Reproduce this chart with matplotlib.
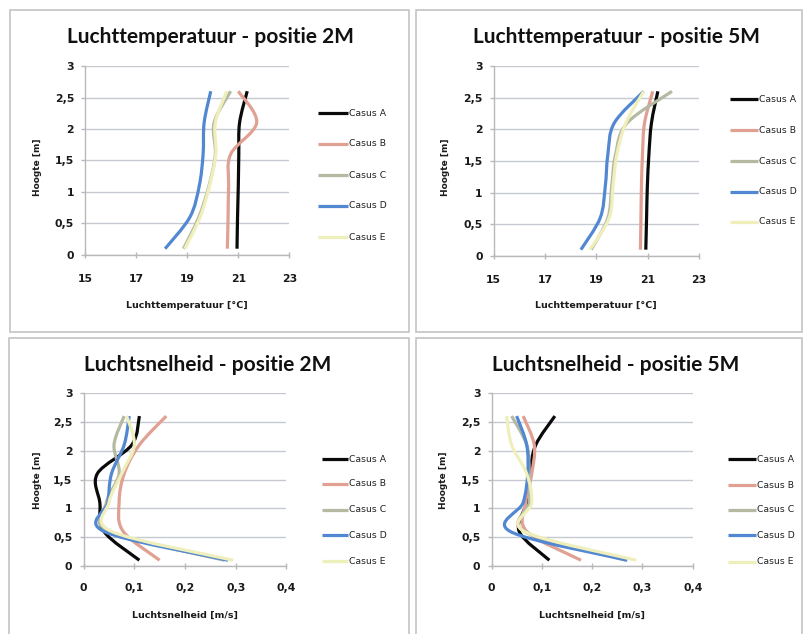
import numpy as np
import matplotlib
matplotlib.use("Agg")
import matplotlib.pyplot as plt
from matplotlib.path import Path
from matplotlib.patches import PathPatch, Rectangle
from matplotlib.lines import Line2D

plt.rcParams['font.family'] = ['Lato', 'DejaVu Sans']
SMALL_FONT = ['DejaVu Sans']

# Measurement heights (m)
heights = [0.1, 0.6, 1.1, 1.6, 2.1, 2.6]
cases = ["Casus A", "Casus B", "Casus C", "Casus D", "Casus E"]
colors = ["#0a0a0a", "#e0a092", "#b4baa2", "#5288d2", "#efefbb"]

# Air temperature (°C) at position 2M
temp_2m_a = [20.95, 20.97, 21.0, 21.02, 21.05, 21.35]
temp_2m_b = [20.57, 20.6, 20.62, 20.7, 21.72, 21.0]
temp_2m_c = [18.85, 19.45, 19.85, 20.1, 20.05, 20.7]
temp_2m_d = [18.13, 19.1, 19.47, 19.62, 19.66, 19.92]
temp_2m_e = [18.9, 19.5, 19.87, 20.12, 20.1, 20.55]

# Air temperature (°C) at position 5M
temp_5m_a = [20.93, 20.96, 20.99, 21.05, 21.15, 21.4]
temp_5m_b = [20.72, 20.74, 20.76, 20.8, 20.88, 21.2]
temp_5m_c = [18.8, 19.45, 19.6, 19.75, 20.2, 21.95]
temp_5m_d = [18.4, 19.15, 19.35, 19.45, 19.7, 20.85]
temp_5m_e = [18.75, 19.5, 19.65, 19.8, 20.15, 20.85]

# Air velocity (m/s) at position 2M
vel_2m_a = [0.11, 0.04, 0.032, 0.027, 0.095, 0.11]
vel_2m_b = [0.15, 0.078, 0.07, 0.08, 0.11, 0.163]
vel_2m_c = [0.278, 0.05, 0.045, 0.07, 0.06, 0.08]
vel_2m_d = [0.285, 0.04, 0.048, 0.055, 0.08, 0.09]
vel_2m_e = [0.295, 0.055, 0.05, 0.075, 0.1, 0.085]

# Air velocity (m/s) at position 5M
vel_5m_a = [0.115, 0.055, 0.07, 0.076, 0.088, 0.126]
vel_5m_b = [0.178, 0.07, 0.068, 0.08, 0.085, 0.063]
vel_5m_c = [0.268, 0.065, 0.075, 0.075, 0.07, 0.04]
vel_5m_d = [0.27, 0.037, 0.063, 0.072, 0.07, 0.05]
vel_5m_e = [0.288, 0.065, 0.08, 0.07, 0.04, 0.03]

temp_ticks = [15, 17, 19, 21, 23]
temp_ticklabels = ["15", "17", "19", "21", "23"]
vel_ticks = [0, 0.1, 0.2, 0.3, 0.4]
vel_ticklabels = ["0", "0,1", "0,2", "0,3", "0,4"]
h_ticks = [0, 0.5, 1, 1.5, 2, 2.5, 3]
h_ticklabels = ["0", "0,5", "1", "1,5", "2", "2,5", "3"]

W, H = 807, 634
fig = plt.figure(figsize=(W / 100, H / 100), dpi=100)
fig.patch.set_facecolor("white")


def fx(px):
    return px / W


def fy(py):
    return 1 - py / H


def smooth_path(xs, ys):
    """Smoothed line through the points (Catmull-Rom as cubic Bezier)."""
    pts = np.column_stack([xs, ys]).astype(float)
    n = len(pts)
    verts = [pts[0]]
    codes = [Path.MOVETO]
    for i in range(n - 1):
        p0 = pts[i - 1] if i > 0 else pts[i]
        p1 = pts[i]
        p2 = pts[i + 1]
        p3 = pts[i + 2] if i + 2 < n else pts[i + 1]
        c1 = p1 + (p2 - p0) / 6.0
        c2 = p2 - (p3 - p1) / 6.0
        verts += [c1, c2, p2]
        codes += [Path.CURVE4] * 3
    return Path(verts, codes)


def panel_frame(x0, y0, x1, y1):
    fig.patches.append(Rectangle((fx(x0), fy(y1)), fx(x1) - fx(x0), fy(y0) - fy(y1),
                                 transform=fig.transFigure, fill=False,
                                 edgecolor="#c4c4c4", linewidth=1.2))


def panel(plot_box, title, title_xy, xlabel, xlabel_xy, ylabel_xy, series,
          xlim, xticks, xticklabels, legend_x, legend_ys, tick_pad):
    x0, y0, x1, y1 = plot_box
    ax = fig.add_axes([fx(x0), fy(y1), fx(x1) - fx(x0), fy(y0) - fy(y1)])
    ax.set_xlim(*xlim)
    ax.set_ylim(0, 3)
    ax.set_facecolor("none")
    for s in ["top", "right"]:
        ax.spines[s].set_visible(False)
    for s in ["left", "bottom"]:
        ax.spines[s].set_color("#b8b8b8")
        ax.spines[s].set_linewidth(1.0)
    ax.set_yticks(h_ticks)
    ax.set_yticklabels(h_ticklabels)
    ax.set_xticks(xticks)
    ax.set_xticklabels(xticklabels)
    ax.tick_params(axis="both", colors="#b8b8b8", length=3, width=1,
                   labelcolor="#1a1a1a", labelsize=7.8)
    ax.tick_params(axis="x", pad=tick_pad, direction="inout", length=5)
    ax.tick_params(axis="y", pad=5)
    for lab in ax.get_xticklabels() + ax.get_yticklabels():
        lab.set_fontweight("bold")
        lab.set_family(SMALL_FONT)
    ax.grid(axis="y", color="#c6c9d0", linewidth=1.0)
    ax.set_axisbelow(True)

    for vals, col in zip(series, colors):
        ax.add_patch(PathPatch(smooth_path(vals, heights), fill=False,
                               edgecolor=col, linewidth=2.3, capstyle="butt",
                               joinstyle="round", zorder=3))

    fig.text(fx(title_xy[0]), fy(title_xy[1]), title, ha="center", va="center",
             fontsize=15, fontweight="bold", color="#111111")
    fig.text(fx(xlabel_xy[0]), fy(xlabel_xy[1]), xlabel, ha="center", va="center",
             fontsize=6.8, fontweight="bold", color="#1a1a1a", family=SMALL_FONT)
    fig.text(fx(ylabel_xy[0]), fy(ylabel_xy[1]), "Hoogte [m]", ha="center",
             va="center", rotation=90, fontsize=6.5, fontweight="bold",
             color="#1a1a1a", family=SMALL_FONT)

    lx0, lx1 = legend_x
    for name, col, ly in zip(cases, colors, legend_ys):
        fig.lines.append(Line2D([fx(lx0), fx(lx1)], [fy(ly), fy(ly)],
                                transform=fig.transFigure, color=col,
                                linewidth=2.3, solid_capstyle="butt"))
        fig.text(fx(lx1 + 1), fy(ly), name, ha="left", va="center",
                 fontsize=6.7, color="#222222", family=SMALL_FONT)
    return ax


# Panel frames
panel_frame(10, 10, 409, 332)
panel_frame(416, 10, 802, 332)
panel_frame(9, 338, 409, 645)
panel_frame(416, 338, 802, 645)

panel((85.3, 66, 289.3, 255), "Luchttemperatuur - positie 2M", (210, 37),
      "Luchttemperatuur [°C]", (187, 305), (38, 167),
      [temp_2m_a, temp_2m_b, temp_2m_c, temp_2m_d, temp_2m_e],
      (15, 23), temp_ticks, temp_ticklabels,
      (318, 348), [113, 144, 175, 206, 237], 11)

panel((493.7, 66, 698.9, 256), "Luchttemperatuur - positie 5M", (616, 37),
      "Luchttemperatuur [°C]", (596, 305), (445, 167),
      [temp_5m_a, temp_5m_b, temp_5m_c, temp_5m_d, temp_5m_e],
      (15, 23), temp_ticks, temp_ticklabels,
      (730, 758), [99, 130, 161, 192, 222], 11)

panel((83.6, 393, 286.4, 566), "Luchtsnelheid - positie 2M", (208, 365),
      "Luchtsnelheid [m/s]", (185, 615), (37, 480),
      [vel_2m_a, vel_2m_b, vel_2m_c, vel_2m_d, vel_2m_e],
      (0, 0.4), vel_ticks, vel_ticklabels,
      (322, 348), [459, 484, 510, 535, 561], 9.5)

panel((491.5, 393, 692.7, 566), "Luchtsnelheid - positie 5M", (616, 365),
      "Luchtsnelheid [m/s]", (592, 615), (444, 480),
      [vel_5m_a, vel_5m_b, vel_5m_c, vel_5m_d, vel_5m_e],
      (0, 0.4), vel_ticks, vel_ticklabels,
      (728, 756), [459, 485, 510, 535, 562], 9.5)

fig.savefig("out.png", dpi=100, facecolor="white")
